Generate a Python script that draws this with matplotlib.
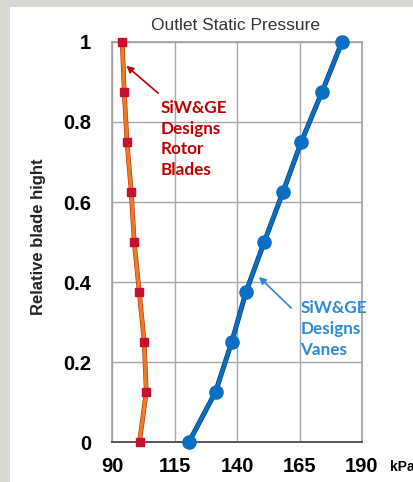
import matplotlib.pyplot as plt
from matplotlib.patches import Rectangle

plt.rcParams['font.family'] = ['Liberation Sans', 'DejaVu Sans']

# Relative blade height stations (hub = 0, tip = 1)
heights = [0, 0.125, 0.25, 0.375, 0.5, 0.625, 0.75, 0.875, 1.0]

# Outlet static pressure, kPa
rotor_pressure = [101.0, 103.7, 102.9, 100.9, 98.9, 97.7, 96.0, 94.9, 94.1]
vane_pressure = [120.8, 131.4, 137.9, 143.6, 150.9, 158.4, 165.7, 174.0, 182.0]

x_ticks = [90, 115, 140, 165, 190]
y_ticks = [0, 0.2, 0.4, 0.6, 0.8, 1]
y_tick_labels = ['0', '0.2', '0.4', '0.6', '0.8', '1']

W, H = 413, 482
fig = plt.figure(figsize=(W / 100, H / 100), dpi=100)
fig.patch.set_facecolor('#d8d7d1')
# white panel inside the grey frame
fig.patches.append(Rectangle((10 / W, 0), 1, (H - 7) / H, transform=fig.transFigure,
                             facecolor='white', edgecolor='none', zorder=-10))

ax = fig.add_axes([112 / W, 40 / H, 250 / W, 400 / H])
ax.set_xlim(90, 190)
ax.set_ylim(0, 1)
ax.set_xticks(x_ticks)
ax.set_yticks(y_ticks)
ax.set_yticklabels(y_tick_labels)
ax.grid(True, color='#a6a6a6', lw=1)
ax.set_axisbelow(True)
for side in ['top', 'right', 'left']:
    ax.spines[side].set_color('#a0a0a0')
    ax.spines[side].set_linewidth(1.2)
ax.spines['bottom'].set_color('#555555')
ax.spines['bottom'].set_linewidth(1.4)
ax.tick_params(length=0, labelsize=14.5)
ax.tick_params(axis='x', pad=11)
ax.tick_params(axis='y', pad=15)
for lbl in ax.get_xticklabels() + ax.get_yticklabels():
    lbl.set_fontweight('bold')

# Rotor blades
ax.plot(rotor_pressure, heights, color='#b22a10', lw=3.4, zorder=3, clip_on=False)
ax.plot(rotor_pressure, heights, color='#ee7b22', lw=2.6, zorder=4, clip_on=False,
        marker='s', ms=5.5, mfc='#c8102e', mec='#c8102e')

# Vanes
ax.plot(vane_pressure, heights, color='#0b3f78', lw=3.6, zorder=3, clip_on=False)
ax.plot(vane_pressure, heights, color='#0a6fc2', lw=2.6, zorder=4, clip_on=False,
        marker='o', ms=9.5, mfc='#0a6fc2', mec='#0a6fc2')

ax.annotate('', xy=(94.9, 0.945), xytext=(109.3, 0.8675),
            arrowprops=dict(arrowstyle='-|>', color='#c00000', lw=1.2, mutation_scale=10))
ax.text(109.3, 0.856, 'SiW&GE\nDesigns\nRotor\nBlades', color='#c00000', fontsize=12.3,
        fontweight='bold', family=['Lato', 'DejaVu Sans'], va='top', ha='left', linespacing=1.38)

ax.annotate('', xy=(148.0, 0.4175), xytext=(162.5, 0.33),
            arrowprops=dict(arrowstyle='-|>', color='#2e86d0', lw=1.2, mutation_scale=10))
ax.text(165.3, 0.355, 'SiW&GE\nDesigns\nVanes', color='#2e8ad6', fontsize=12.3,
        fontweight='bold', family=['Lato', 'DejaVu Sans'], va='top', ha='left', linespacing=1.38)

fig.text(235 / W, 1 - 26 / H, 'Outlet Static Pressure', ha='center', va='center',
         fontsize=12.5, color='#333333')
fig.text(39 / W, 1 - 237 / H, 'Relative blade hight', rotation=90, ha='center', va='center',
         fontsize=12, fontweight='bold', color='#222222')
fig.text(390 / W, 1 - 467 / H, 'kPa', ha='left', va='center', fontsize=10, fontweight='bold')

fig.savefig('out.png', dpi=100)
